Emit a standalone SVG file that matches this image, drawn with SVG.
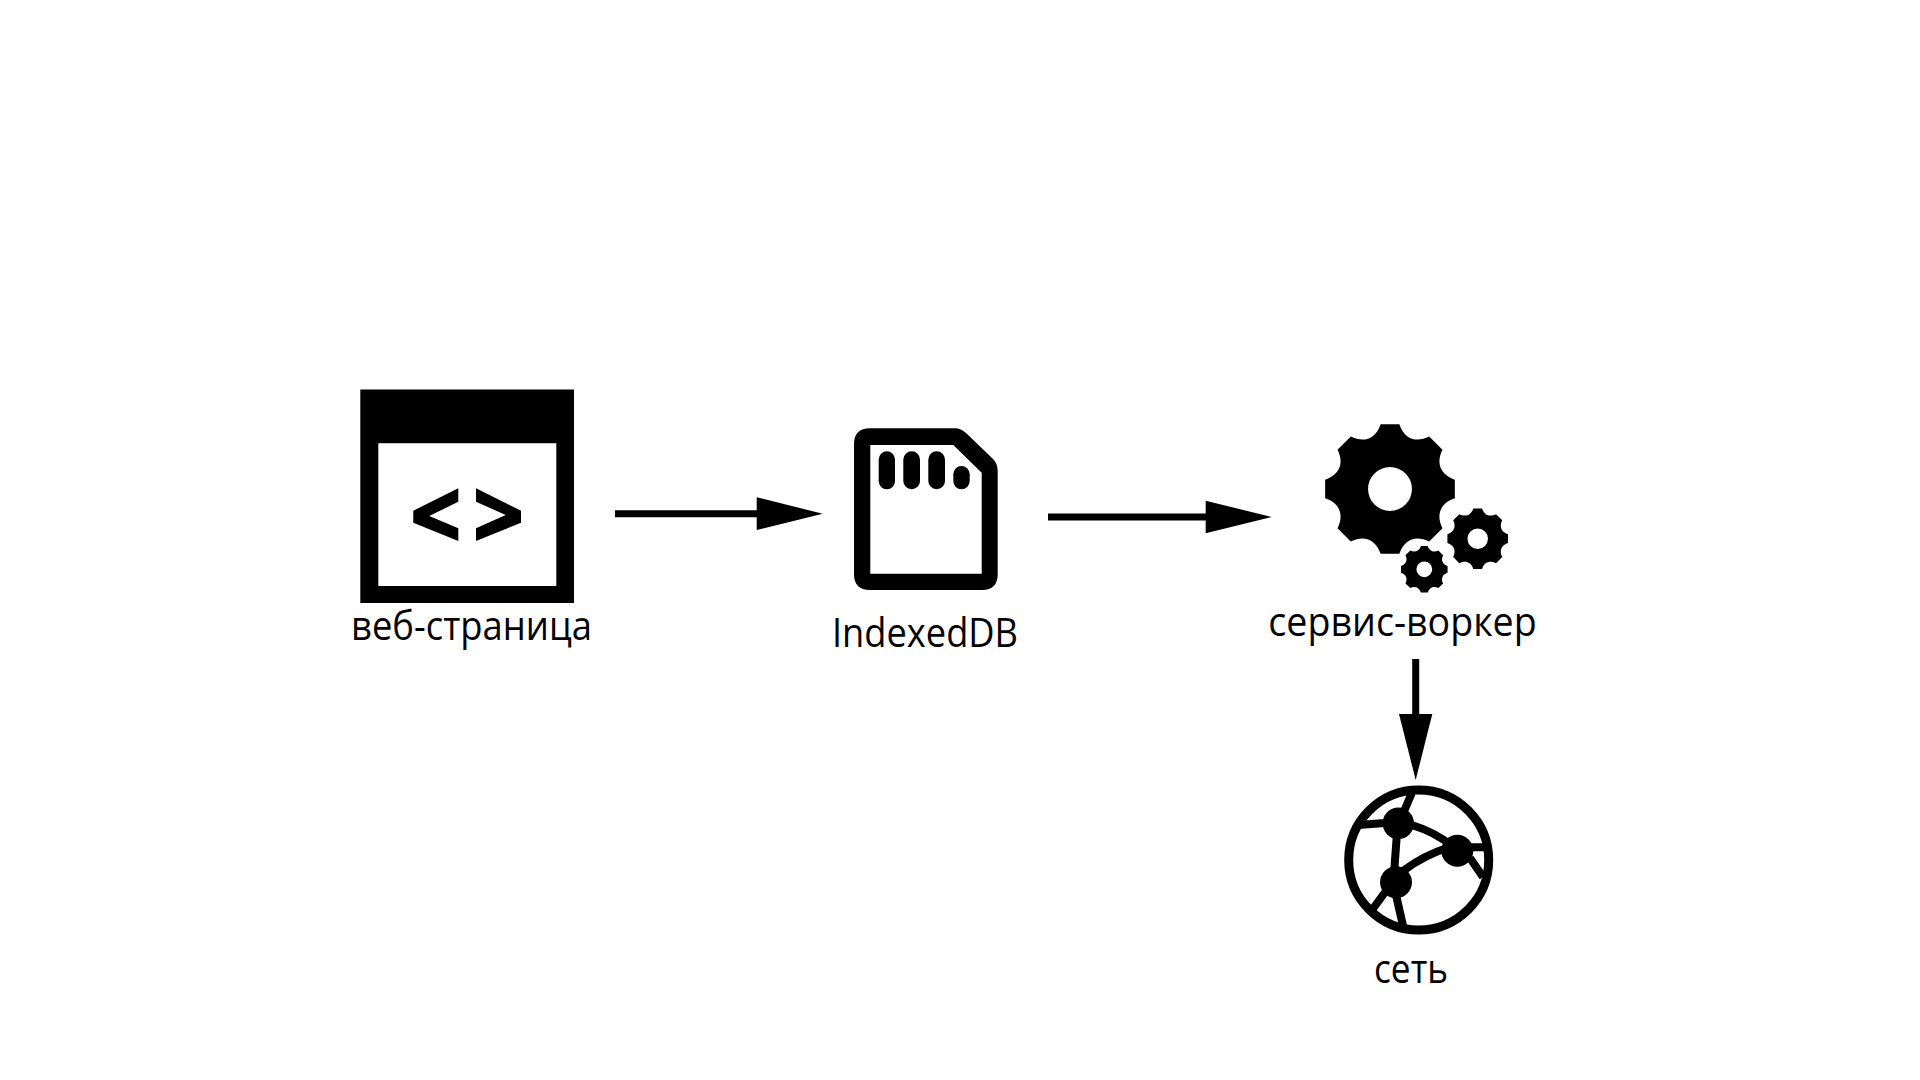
<svg xmlns="http://www.w3.org/2000/svg" width="1920" height="1080" viewBox="0 0 1920 1080">
<style>
.label{font-family:"Open Sans","Noto Sans","Liberation Sans",sans-serif;font-size:41px;fill:#000}
.conn{stroke:#000;stroke-width:7;fill:none}
.net{stroke:#000;stroke-width:8;fill:none}
.head{fill:#000}
</style>
<defs>
<path id="gear" fill-rule="evenodd" d="M-14.3-99H14.3C21.500-77 39.300-69.700 59.900-80.100L80.100-59.900C69.700-39.200 77.100-21.500 99-14.300V14.300C77 21.500 69.700 39.300 80.100 59.900L59.900 80.100C39.200 69.700 21.500 77.100 14.300 99H-14.300C-21.500 77-39.300 69.700-59.900 80.100L-80.100 59.900C-69.700 39.200-77.100 21.500-99 14.300V-14.300C-77-21.500-69.700-39.300-80.100-59.900L-59.900-80.100C-39.200-69.700-21.500-77.100-14.300-99ZM33.500 0A33.500 33.500 0 1 0-33.500 0A33.500 33.500 0 1 0 33.500 0Z"/>
</defs>
<rect width="1920" height="1080" fill="#fff"/>
<g id="connectors">
<g id="arrow-page-db"><line class="conn" x1="615" y1="513.700" x2="760" y2="513.700"/><polygon class="head" points="756.700,497.300 756.700,530 822.700,513.700"/></g>
<g id="arrow-db-worker"><line class="conn" x1="1048" y1="517" x2="1209" y2="517"/><polygon class="head" points="1205.700,500.700 1205.700,533.300 1271.700,517"/></g>
<g id="arrow-worker-net"><line class="conn" x1="1415.700" y1="659" x2="1415.700" y2="717"/><polygon class="head" points="1399,714 1432.300,714 1415.700,780"/></g>
</g>
<g id="node-page">
<path fill-rule="evenodd" d="M360.300 389.500H574V603H360.300ZM378.300 443.300V586H556.300V443.300Z"/>
<polygon points="458.300,488.300 413.300,510.700 413.300,522.700 458.300,541 458.300,528.300 429.300,516 458.300,501.700"/>
<polygon points="476,488.300 521,510.700 521,522.700 476,541 476,528.300 505.700,515 476,501.700"/>
<text class="label" x="351" y="640" textLength="241" lengthAdjust="spacingAndGlyphs">веб-страница</text>
</g>
<g id="node-indexeddb">
<path fill-rule="evenodd" d="M870 428.300H955Q961 428.300 966 433L992 458Q997.700 463 997.700 471V574Q997.700 590 982 590H870Q854 590 854 574V444Q854 428.300 870 428.300ZM870.300 445V573.700H981.700V472.700L953.300 445Z"/>
<rect x="878.700" y="451.300" width="16.300" height="38" rx="8.150"/>
<rect x="903.300" y="451.300" width="16.700" height="38" rx="8.300"/>
<rect x="928.300" y="451.300" width="16.700" height="38" rx="8.300"/>
<rect x="953.300" y="466" width="16.400" height="23.300" rx="8.200"/>
<text class="label" x="832" y="647" textLength="186" lengthAdjust="spacingAndGlyphs">IndexedDB</text>
</g>
<g id="node-worker">
<use href="#gear" transform="translate(1390 489) scale(.655)"/>
<use href="#gear" transform="translate(1477.700 538.700) scale(.306)"/>
<use href="#gear" transform="translate(1424.300 569.300) scale(.235)"/>
<text class="label" x="1268.300" y="636" textLength="268.400" lengthAdjust="spacingAndGlyphs">сервис-воркер</text>
</g>
<g id="node-network">
<circle cx="1418.700" cy="860" r="70" fill="none" stroke="#000" stroke-width="9"/>
<path class="net" d="M1411.700 793.300L1403.300 813M1358 825L1385 823M1411.700 825Q1435 832 1452 846M1396.700 836.700L1394.300 870M1403 871Q1424 855 1450 847M1470 847.300H1486M1470 858L1483 877M1386.700 890L1372 910M1396 895L1403.300 927"/>
<circle cx="1398.300" cy="823.300" r="15.700"/>
<circle cx="1457.300" cy="850.700" r="16"/>
<circle cx="1396" cy="882.300" r="16"/>
<text class="label" x="1374" y="983" textLength="74" lengthAdjust="spacingAndGlyphs">сеть</text>
</g>
</svg>
